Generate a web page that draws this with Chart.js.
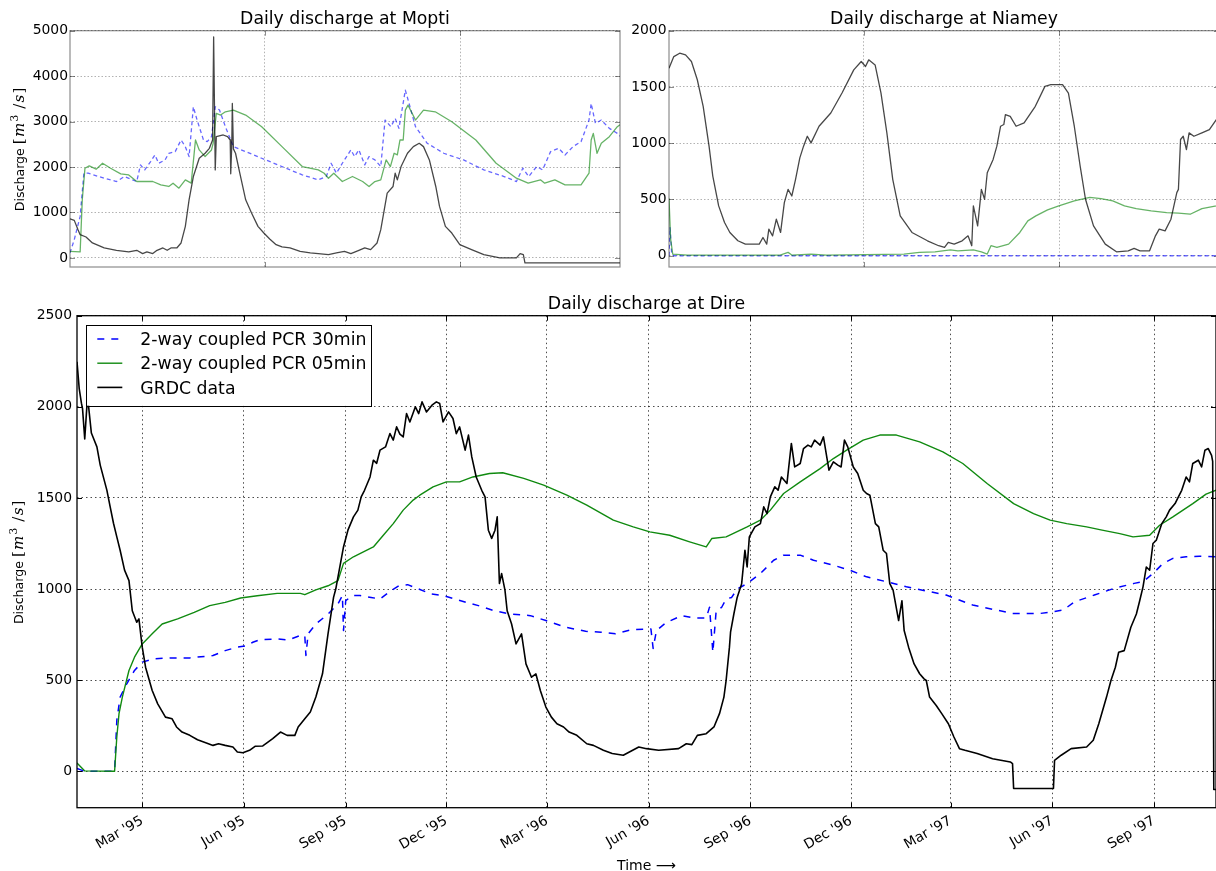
<!DOCTYPE html>
<html>
<head>
<meta charset="utf-8">
<title>Daily discharge</title>
<script src="https://cdn.jsdelivr.net/npm/chart.js@4.4.1/dist/chart.umd.min.js"></script>
<style>
  html, body { margin: 0; padding: 0; background: #fff; overflow: hidden; }
  #fig { position: relative; width: 1216px; height: 871px; overflow: hidden; background: #fff; }
  #fig canvas { position: absolute; }
</style>
</head>
<body>
<div id="fig">
  <canvas id="mopti" width="690" height="285" style="left:0;top:0"></canvas>
  <canvas id="niamey" width="688" height="285" style="left:600px;top:0"></canvas>
  <canvas id="dire" width="1293" height="586" style="left:0;top:285px"></canvas>
</div>
<script>
const FONT = 'DejaVu Sans';

// x values are days counted from 1 Jan 1995
const dayMax = 1030;
const yearTicks = [365, 731];
const direTickDays = [59, 151, 243, 334, 425, 517, 609, 700, 790, 882, 974];
const direTickLabels = ["Mar '95", "Jun '95", "Sep '95", "Dec '95", "Mar '96", "Jun '96",
  "Sep '96", "Dec '96", "Mar '97", "Jun '97", "Sep '97"];
const moptiYTicks = [0, 1000, 2000, 3000, 4000, 5000];
const niameyYTicks = [0, 500, 1000, 1500, 2000];
const direYTicks = [0, 500, 1000, 1500, 2000, 2500];

const seriesNames = ['2-way coupled PCR 30min', '2-way coupled PCR 05min', 'GRDC data'];

// ---- Mopti ----
const moptiPcr30Days = [0, 8, 19, 26, 34, 64, 87, 102, 117, 125, 132, 140, 151, 159, 166, 178, 185, 197, 208, 216,
  223, 231, 238, 250, 257, 265, 272, 280, 291, 306, 329, 359, 397, 435, 465, 480, 489, 499, 510, 526,
  533, 541, 552, 560, 571, 582, 590, 601, 609, 616, 628, 635, 647, 669, 700, 737, 775, 813, 836, 848,
  859, 874, 885, 900, 915, 927, 942, 957, 972, 976, 984, 995, 1010, 1025, 1030];
const moptiPcr30 = [110, 402, 914, 1864, 1864, 1754, 1681, 1791, 1718, 1681, 2047, 1937, 2120, 2266, 2083, 2156, 2303, 2339, 2595, 2449,
  2230, 3326, 3034, 2595, 2558, 2668, 3326, 3253, 2888, 2449, 2339, 2193, 2010, 1827, 1718, 1791, 2083, 1864, 2083, 2376,
  2230, 2376, 2047, 2230, 2156, 2010, 3034, 2888, 3070, 2851, 3692, 3399, 2888, 2522, 2303, 2156, 1937, 1791, 1681, 1974,
  1791, 2010, 1937, 2339, 2412, 2266, 2449, 2558, 3034, 3399, 2961, 3034, 2851, 2741, 2680];

const moptiPcr05Days = [0, 19, 23, 28, 36, 49, 61, 76, 95, 110, 125, 140, 155, 170, 185, 193, 204, 216, 227, 235,
  242, 253, 265, 268, 274, 282, 291, 306, 329, 359, 397, 435, 465, 476, 484, 494, 510, 529, 548, 560,
  571, 582, 592, 600, 607, 613, 618, 624, 628, 633, 647, 662, 684, 715, 760, 798, 836, 858, 881, 889,
  908, 927, 957, 972, 976, 980, 987, 995, 1010, 1025, 1030];
const moptiPcr05 = [146, 132, 1279, 1974, 2025, 1952, 2083, 1974, 1849, 1827, 1681, 1681, 1681, 1608, 1572, 1645, 1535, 1718, 1645, 2595,
  2376, 2230, 2376, 2522, 3180, 3143, 3216, 3253, 3143, 2888, 2449, 2010, 1937, 1864, 1754, 1864, 1681, 1791, 1681, 1572,
  1681, 1718, 2156, 2010, 2303, 2266, 2595, 2595, 3253, 3363, 3034, 3253, 3216, 2997, 2595, 2083, 1754, 1645, 1718, 1645,
  1718, 1608, 1608, 1864, 2595, 2741, 2303, 2522, 2668, 2888, 2930];

const moptiGrdcDays = [0, 8, 15, 19, 30, 42, 64, 87, 110, 125, 136, 144, 155, 163, 174, 182, 189, 200, 208, 216,
  223, 231, 242, 253, 261, 267, 269, 272, 274, 287, 295, 300, 301, 303, 304, 306, 310, 318, 329, 340,
  352, 363, 374, 386, 397, 412, 431, 450, 465, 484, 499, 514, 526, 541, 552, 563, 575, 582, 594, 605,
  609, 613, 620, 632, 643, 654, 662, 673, 685, 692, 703, 715, 730, 752, 775, 805, 836, 843, 849, 852, 1030];
const moptiGrdc = [862, 826, 621, 512, 460, 329, 219, 168, 132, 168, 95, 132, 95, 168, 219, 168, 219, 219, 329, 694,
  1279, 1791, 2193, 2303, 2412, 2595, 4861, 1937, 2668, 2705, 2668, 2595, 1850, 2500, 3399, 2400, 2303, 1864, 1279, 987,
  694, 548, 417, 292, 241, 219, 146, 110, 95, 73, 110, 146, 95, 168, 219, 183, 329, 621, 1425, 1572,
  1864, 1718, 2010, 2303, 2449, 2522, 2449, 2156, 1572, 1133, 694, 548, 292, 183, 73, 0, 0, 95, 73, -110, -110];

// ---- Niamey ----
const niameyPcr30Days = [0, 2, 5, 9, 1030];
const niameyPcr30 = [0, 250, 20, 0, 0];

const niameyPcr05Days = [0, 3, 7, 35, 107, 208, 223, 230, 266, 295, 440, 469, 498, 527, 541, 570, 585, 596, 603, 614,
  636, 657, 672, 687, 709, 730, 759, 788, 809, 831, 853, 875, 903, 932, 954, 976, 998, 1025, 1030];
const niameyPcr05 = [510, 150, 15, 6, 6, 6, 30, 6, 15, 6, 15, 30, 35, 53, 44, 53, 35, 15, 89, 74,
  103, 207, 310, 354, 407, 443, 487, 519, 507, 487, 443, 419, 398, 384, 378, 369, 419, 443, 450];

const niameyGrdcDays = [0, 9, 20, 31, 42, 53, 64, 75, 82, 93, 104, 114, 129, 143, 158, 169, 176, 183, 187, 194,
  201, 209, 216, 223, 230, 237, 245, 252, 259, 266, 281, 303, 324, 346, 360, 368, 374, 386, 397, 408,
  419, 433, 455, 484, 505, 516, 523, 534, 549, 560, 567, 570, 578, 585, 591, 596, 607, 614, 621, 627,
  630, 639, 650, 665, 686, 704, 715, 737, 748, 759, 770, 780, 795, 817, 838, 860, 871, 882, 900, 911,
  918, 929, 940, 951, 954, 958, 963, 969, 974, 983, 998, 1012, 1025, 1030];
const niameyGrdc = [1667, 1770, 1800, 1785, 1726, 1564, 1328, 974, 708, 443, 295, 207, 133, 103, 103, 103, 162, 103, 236, 177,
  325, 207, 472, 590, 531, 679, 870, 974, 1062, 1003, 1151, 1269, 1446, 1652, 1726, 1682, 1741, 1696, 1446, 1092,
  679, 354, 207, 133, 89, 74, 118, 103, 133, 177, 89, 443, 266, 590, 502, 738, 856, 974, 1151, 1166,
  1254, 1239, 1151, 1180, 1328, 1505, 1520, 1520, 1446, 1151, 797, 502, 266, 103, 35, 44, 65, 44, 44, 177,
  236, 221, 325, 561, 590, 1033, 1062, 944, 1092, 1062, 1092, 1121, 1210, 1240];

// ---- Dire ----
const direPcr30Days = [0, 7, 34, 36, 39, 45, 52, 59, 70, 84, 102, 123, 134, 145, 154, 159, 166, 181, 191, 202,
  206, 207, 209, 216, 227, 236, 240, 241, 243, 249, 256, 266, 274, 284, 291, 299, 309, 320, 331, 342,
  352, 363, 377, 392, 410, 424, 442, 460, 474, 487, 501, 519, 521, 524, 533, 547, 558, 569, 572, 575,
  578, 583, 587, 592, 597, 606, 618, 630, 639, 654, 666, 684, 699, 714, 732, 750, 786, 810, 846, 871,
  882, 892, 902, 920, 938, 956, 964, 973, 982, 991, 1003, 1015, 1030];
const direPcr30 = [15, 0, 0, 279, 407, 480, 553, 599, 617, 622, 622, 635, 662, 681, 690, 708, 723, 726, 721, 745,
  745, 635, 754, 808, 863, 918, 964, 772, 936, 964, 964, 954, 945, 991, 1018, 1024, 1000, 973, 964, 945,
  927, 909, 881, 863, 854, 827, 790, 768, 763, 754, 776, 781, 674, 772, 817, 854, 841, 841, 900, 653,
  881, 900, 945, 954, 1000, 1030, 1085, 1158, 1186, 1186, 1158, 1131, 1103, 1067, 1040, 1012, 967, 912, 866, 866,
  875, 885, 930, 967, 1004, 1031, 1040, 1085, 1140, 1168, 1177, 1180, 1177];

const direPcr05Days = [0, 7, 34, 36, 38, 41, 47, 52, 59, 68, 77, 91, 106, 120, 134, 148, 163, 181, 202, 206,
  216, 227, 236, 241, 250, 259, 268, 277, 286, 295, 304, 310, 322, 334, 346, 358, 373, 385, 404, 422,
  443, 461, 485, 503, 518, 536, 554, 569, 574, 587, 606, 618, 627, 639, 654, 672, 684, 696, 711, 726,
  741, 762, 783, 801, 823, 847, 865, 880, 895, 913, 927, 943, 955, 970, 979, 991, 1009, 1021, 1030];
const direPcr05 = [46, 2, 0, 188, 316, 407, 553, 626, 699, 754, 808, 836, 872, 909, 927, 951, 963, 976, 976, 969,
  995, 1018, 1046, 1141, 1177, 1204, 1231, 1295, 1359, 1433, 1488, 1515, 1561, 1588, 1588, 1615, 1634, 1638, 1607, 1570,
  1515, 1460, 1378, 1341, 1314, 1295, 1259, 1231, 1277, 1286, 1341, 1378, 1433, 1524, 1588, 1661, 1716, 1762, 1817, 1845,
  1845, 1808, 1753, 1689, 1579, 1469, 1414, 1378, 1359, 1341, 1323, 1304, 1286, 1295, 1350, 1396, 1469, 1521, 1542];

const direGrdcDays = [0, 2, 4, 5, 7, 9, 10, 13, 18, 21, 27, 30, 33, 36, 39, 43, 47, 50, 54, 56,
  59, 62, 68, 73, 80, 86, 90, 95, 102, 109, 117, 123, 128, 134, 141, 145, 150, 156, 161, 168,
  177, 184, 190, 197, 200, 206, 211, 216, 222, 227, 232, 234, 241, 245, 250, 254, 257, 260, 265, 268,
  271, 274, 279, 283, 286, 289, 292, 295, 298, 301, 306, 309, 312, 316, 321, 325, 328, 331, 336, 340,
  343, 346, 351, 354, 357, 361, 366, 369, 372, 375, 378, 380, 382, 384, 387, 389, 393, 397, 402, 406,
  411, 415, 419, 424, 429, 434, 440, 445, 452, 461, 467, 476, 484, 494, 508, 515, 526, 544, 551, 556,
  561, 569, 576, 581, 585, 587, 590, 591, 594, 597, 601, 604, 606, 608, 613, 618, 621, 624, 627, 631,
  634, 637, 642, 646, 649, 654, 657, 661, 664, 667, 672, 675, 678, 680, 684, 688, 691, 694, 697, 702,
  706, 711, 714, 717, 722, 725, 729, 732, 735, 738, 743, 746, 748, 752, 757, 762, 766, 768, 771, 777,
  782, 788, 793, 798, 803, 814, 828, 844, 846, 847, 883, 884, 890, 899, 913, 919, 924, 931, 935, 939,
  942, 947, 953, 958, 961, 964, 967, 970, 973, 976, 981, 985, 988, 993, 996, 999, 1003, 1006, 1009, 1014,
  1017, 1020, 1023, 1026, 1027, 1028, 1030];
const direGrdc = [2247, 2100, 2020, 1990, 1823, 2009, 2030, 1856, 1780, 1680, 1543, 1451, 1361, 1286, 1213, 1104, 1046, 881, 818, 836,
  681, 571, 443, 370, 297, 288, 243, 215, 197, 173, 155, 142, 151, 142, 133, 106, 102, 115, 137, 139,
  179, 215, 197, 197, 243, 288, 325, 407, 535, 754, 954, 1000, 1231, 1323, 1396, 1433, 1506, 1542, 1615, 1707,
  1690, 1762, 1780, 1853, 1817, 1890, 1850, 1835, 1963, 1917, 2000, 1963, 2027, 1972, 2009, 2027, 2018, 1917, 1972, 1936,
  1853, 1890, 1762, 1845, 1725, 1615, 1542, 1506, 1323, 1278, 1323, 1396, 1030, 1085, 994, 881, 808, 699, 754, 589,
  516, 534, 443, 352, 297, 261, 243, 215, 197, 151, 142, 115, 97, 88, 133, 124, 115, 124, 151, 146,
  197, 206, 243, 316, 407, 498, 681, 763, 863, 954, 1027, 1213, 1121, 1286, 1341, 1359, 1451, 1414, 1506, 1561,
  1542, 1615, 1579, 1799, 1670, 1689, 1771, 1790, 1780, 1817, 1790, 1835, 1725, 1652, 1698, 1680, 1670, 1817, 1780, 1670,
  1634, 1542, 1524, 1515, 1359, 1341, 1213, 1195, 1030, 994, 827, 936, 772, 681, 589, 535, 507, 498, 407, 361,
  316, 261, 188, 124, 115, 97, 69, 51, 42, -95, -95, 60, 88, 124, 133, 170, 261, 407, 498, 571,
  653, 662, 790, 863, 936, 1012, 1121, 1103, 1250, 1268, 1359, 1396, 1433, 1469, 1506, 1542, 1615, 1588, 1689, 1707,
  1670, 1762, 1771, 1734, 1700, -100, -100];

const pts = (days, vals) => days.map((d, i) => ({ x: d, y: vals[i] }));

// axes frame on all four sides, with short inward tick marks
const framePlugin = {
  id: 'frame',
  afterDatasetsDraw(chart, args, o) {
    const { ctx, chartArea: a, scales: { x, y } } = chart;
    ctx.save();
    ctx.strokeStyle = o.color;
    ctx.lineWidth = 1;
    ctx.beginPath();
    for (const t of x.ticks) {
      const px = Math.round(x.getPixelForValue(t.value)) + 0.5;
      ctx.moveTo(px, a.bottom); ctx.lineTo(px, a.bottom - o.tick);
      ctx.moveTo(px, a.top); ctx.lineTo(px, a.top + o.tick);
    }
    for (const t of y.ticks) {
      const py = Math.round(y.getPixelForValue(t.value)) + 0.5;
      ctx.moveTo(a.left, py); ctx.lineTo(a.left + o.tick, py);
      ctx.moveTo(a.right, py); ctx.lineTo(a.right - o.tick, py);
    }
    ctx.stroke();
    ctx.lineWidth = o.width;
    ctx.strokeRect(a.left, a.top, a.right - a.left, a.bottom - a.top);
    ctx.restore();
  }
};

// y label with math-style units, and the optional "Time" label under the date axis
const yLabelRuns = [
  { t: 'Discharge ', f: 'text' },
  { t: '[', f: 'math' },
  { t: 'm', f: 'mathit' },
  { t: '3', f: 'sup' },
  { t: ' /', f: 'math' },
  { t: 's', f: 'mathit' },
  { t: ']', f: 'math' }
];
const axisText = {
  id: 'axisText',
  afterDraw(chart, args, o) {
    const { ctx, chartArea: a } = chart;
    const sz = o.size;
    const msz = sz * 1.2;
    const fontOf = r => ({
      text: `${sz}px "${FONT}"`,
      math: `${msz}px "DejaVu Serif"`,
      mathit: `italic ${msz}px "DejaVu Serif"`,
      sup: `${msz * 0.7}px "DejaVu Serif"`
    })[r.f];
    ctx.save();
    ctx.fillStyle = '#000';
    ctx.textBaseline = 'alphabetic';
    ctx.textAlign = 'left';
    let total = 0;
    const widths = yLabelRuns.map(r => {
      ctx.font = fontOf(r);
      const w = ctx.measureText(r.t).width + (r.f === 'text' ? 0 : 1.2);
      total += w;
      return w;
    });
    ctx.translate(o.yLabelX, (a.top + a.bottom) / 2);
    ctx.rotate(-Math.PI / 2);
    let cx = -total / 2;
    yLabelRuns.forEach((r, i) => {
      ctx.font = fontOf(r);
      ctx.fillText(r.t, cx, sz * 0.36 - (r.f === 'sup' ? msz * 0.42 : 0));
      cx += widths[i];
    });
    ctx.restore();
    if (o.xLabel) {
      ctx.save();
      ctx.fillStyle = '#000';
      ctx.font = `${o.xSize}px "${FONT}"`;
      ctx.textAlign = 'center';
      ctx.textBaseline = 'alphabetic';
      ctx.fillText(o.xLabel, (a.left + a.right) / 2, o.xLabelY);
      ctx.restore();
    }
  }
};

// framed legend in the upper left corner of the plot
const boxLegend = {
  id: 'boxLegend',
  afterDraw(chart, args, o) {
    if (!o.show) return;
    const { ctx, chartArea: a } = chart;
    const sets = chart.data.datasets;
    ctx.save();
    ctx.font = `${o.size}px "${FONT}"`;
    const textW = Math.max(...sets.map(d => ctx.measureText(d.label).width));
    const x0 = a.left + o.inset, y0 = a.top + o.inset;
    const w = o.padLeft + o.sample + o.gap + textW + o.padRight;
    const h = o.padTop + o.rowH * (sets.length - 1) + o.padBottom;
    ctx.fillStyle = '#fff';
    ctx.fillRect(x0, y0, w, h);
    ctx.strokeStyle = '#000';
    ctx.lineWidth = 1;
    ctx.strokeRect(Math.round(x0) + 0.5, Math.round(y0) + 0.5, Math.round(w), Math.round(h));
    sets.forEach((d, i) => {
      const ry = y0 + o.padTop + i * o.rowH;
      ctx.beginPath();
      ctx.strokeStyle = d.borderColor;
      ctx.lineWidth = d.borderWidth;
      ctx.setLineDash(d.borderDash || []);
      ctx.moveTo(x0 + o.padLeft, ry);
      ctx.lineTo(x0 + o.padLeft + o.sample, ry);
      ctx.stroke();
      ctx.setLineDash([]);
      ctx.fillStyle = '#000';
      ctx.textBaseline = 'alphabetic';
      ctx.fillText(d.label, x0 + o.padLeft + o.sample + o.gap, ry + o.size * 0.36);
    });
    ctx.restore();
  }
};

function makePanel(id, cfg) {
  const light = cfg.light;
  const styles = light ? [
    { color: 'rgba(0,0,255,0.6)', width: 1.3, dash: [4, 3] },
    { color: 'rgba(0,128,0,0.6)', width: 1.3, dash: [] },
    { color: 'rgba(0,0,0,0.72)', width: 1.3, dash: [] }
  ] : [
    { color: '#0000ff', width: 1.5, dash: [7, 7] },
    { color: '#108a10', width: 1.4, dash: [] },
    { color: '#000000', width: 1.6, dash: [] }
  ];
  const gridColor = light ? 'rgba(0,0,0,0.3)' : 'rgba(0,0,0,0.7)';
  const gridDash = light ? [1.5, 2] : [1.5, 3];
  const tickFont = { family: FONT, size: 13.9 };

  const datasets = cfg.series.map((s, i) => ({
    label: seriesNames[i],
    data: s,
    borderColor: styles[i].color,
    borderWidth: styles[i].width,
    borderDash: styles[i].dash,
    borderJoinStyle: 'round',
    pointRadius: 0,
    tension: 0,
    fill: false,
    order: 2 - i
  }));

  return new Chart(document.getElementById(id), {
    type: 'line',
    data: { datasets },
    options: {
      responsive: false,
      animation: false,
      events: [],
      layout: { padding: 0 },
      scales: {
        x: {
          type: 'linear',
          min: 0,
          max: dayMax,
          afterBuildTicks: ax => { ax.ticks = cfg.xTicks.map(v => ({ value: v })); },
          afterFit: ax => { ax.height = cfg.xAxisH; },
          ticks: {
            display: !!cfg.xLabels,
            autoSkip: false,
            minRotation: 30,
            maxRotation: 30,
            padding: 5,
            color: '#000',
            font: tickFont,
            callback: v => cfg.xLabels ? cfg.xLabels[cfg.xTicks.indexOf(v)] : ''
          },
          grid: { color: gridColor, lineWidth: 1, drawTicks: false },
          border: { display: false, dash: gridDash }
        },
        y: {
          min: cfg.yMin,
          max: cfg.yMax,
          afterBuildTicks: ax => { ax.ticks = cfg.yTicks.map(v => ({ value: v })); },
          afterFit: ax => { ax.width = cfg.yAxisW; },
          ticks: { padding: cfg.yPad, color: '#000', font: tickFont, callback: v => String(v) },
          grid: { color: gridColor, lineWidth: 1, drawTicks: false },
          border: { display: false, dash: gridDash }
        },
        // empty right-hand margin, same width as the left axis, so the title sits over the plot centre
        yMargin: {
          position: 'right',
          min: cfg.yMin,
          max: cfg.yMax,
          afterFit: ax => { ax.width = cfg.yAxisW; },
          ticks: { display: false },
          grid: { display: false },
          border: { display: false }
        }
      },
      plugins: {
        legend: { display: false },
        tooltip: { enabled: false },
        title: {
          display: true,
          text: cfg.title,
          color: '#000',
          font: { family: FONT, size: 17.3, weight: 'normal', lineHeight: 1 },
          padding: { top: 11.2, bottom: 2.2 }
        },
        frame: { color: light ? 'rgba(0,0,0,0.45)' : '#000', width: light ? 1.2 : 1.3, tick: 5 },
        axisText: cfg.axisText,
        boxLegend: cfg.legend || { show: false }
      }
    },
    plugins: [framePlugin, axisText, boxLegend]
  });
}

makePanel('mopti', {
  light: true,
  title: 'Daily discharge at Mopti',
  series: [pts(moptiPcr30Days, moptiPcr30), pts(moptiPcr05Days, moptiPcr05), pts(moptiGrdcDays, moptiGrdc)],
  xTicks: yearTicks, xLabels: null, xAxisH: 18,
  yMin: -200, yMax: 5000, yTicks: moptiYTicks, yAxisW: 70, yPad: 2,
  axisText: { yLabelX: 19.6, size: 12.6 }
});

makePanel('niamey', {
  light: true,
  title: 'Daily discharge at Niamey',
  series: [pts(niameyPcr30Days, niameyPcr30), pts(niameyPcr05Days, niameyPcr05), pts(niameyGrdcDays, niameyGrdc)],
  xTicks: yearTicks, xLabels: null, xAxisH: 18,
  yMin: -100, yMax: 2000, yTicks: niameyYTicks, yAxisW: 69, yPad: 2.5,
  axisText: { yLabelX: -200, size: 12.6 }
});

makePanel('dire', {
  light: false,
  title: 'Daily discharge at Dire',
  series: [pts(direPcr30Days, direPcr30), pts(direPcr05Days, direPcr05), pts(direGrdcDays, direGrdc)],
  xTicks: direTickDays, xLabels: direTickLabels, xAxisH: 63.3,
  yMin: -200, yMax: 2500, yTicks: direYTicks, yAxisW: 77, yPad: 5,
  axisText: { yLabelX: 18.5, size: 12.6, xLabel: 'Time \u27F6', xSize: 14, xLabelY: 585 },
  legend: { show: true, size: 17.3, inset: 9, padLeft: 11.3, sample: 25, gap: 18, padRight: 5,
            padTop: 14.3, rowH: 24.2, padBottom: 18.3 }
});
</script>
</body>
</html>
